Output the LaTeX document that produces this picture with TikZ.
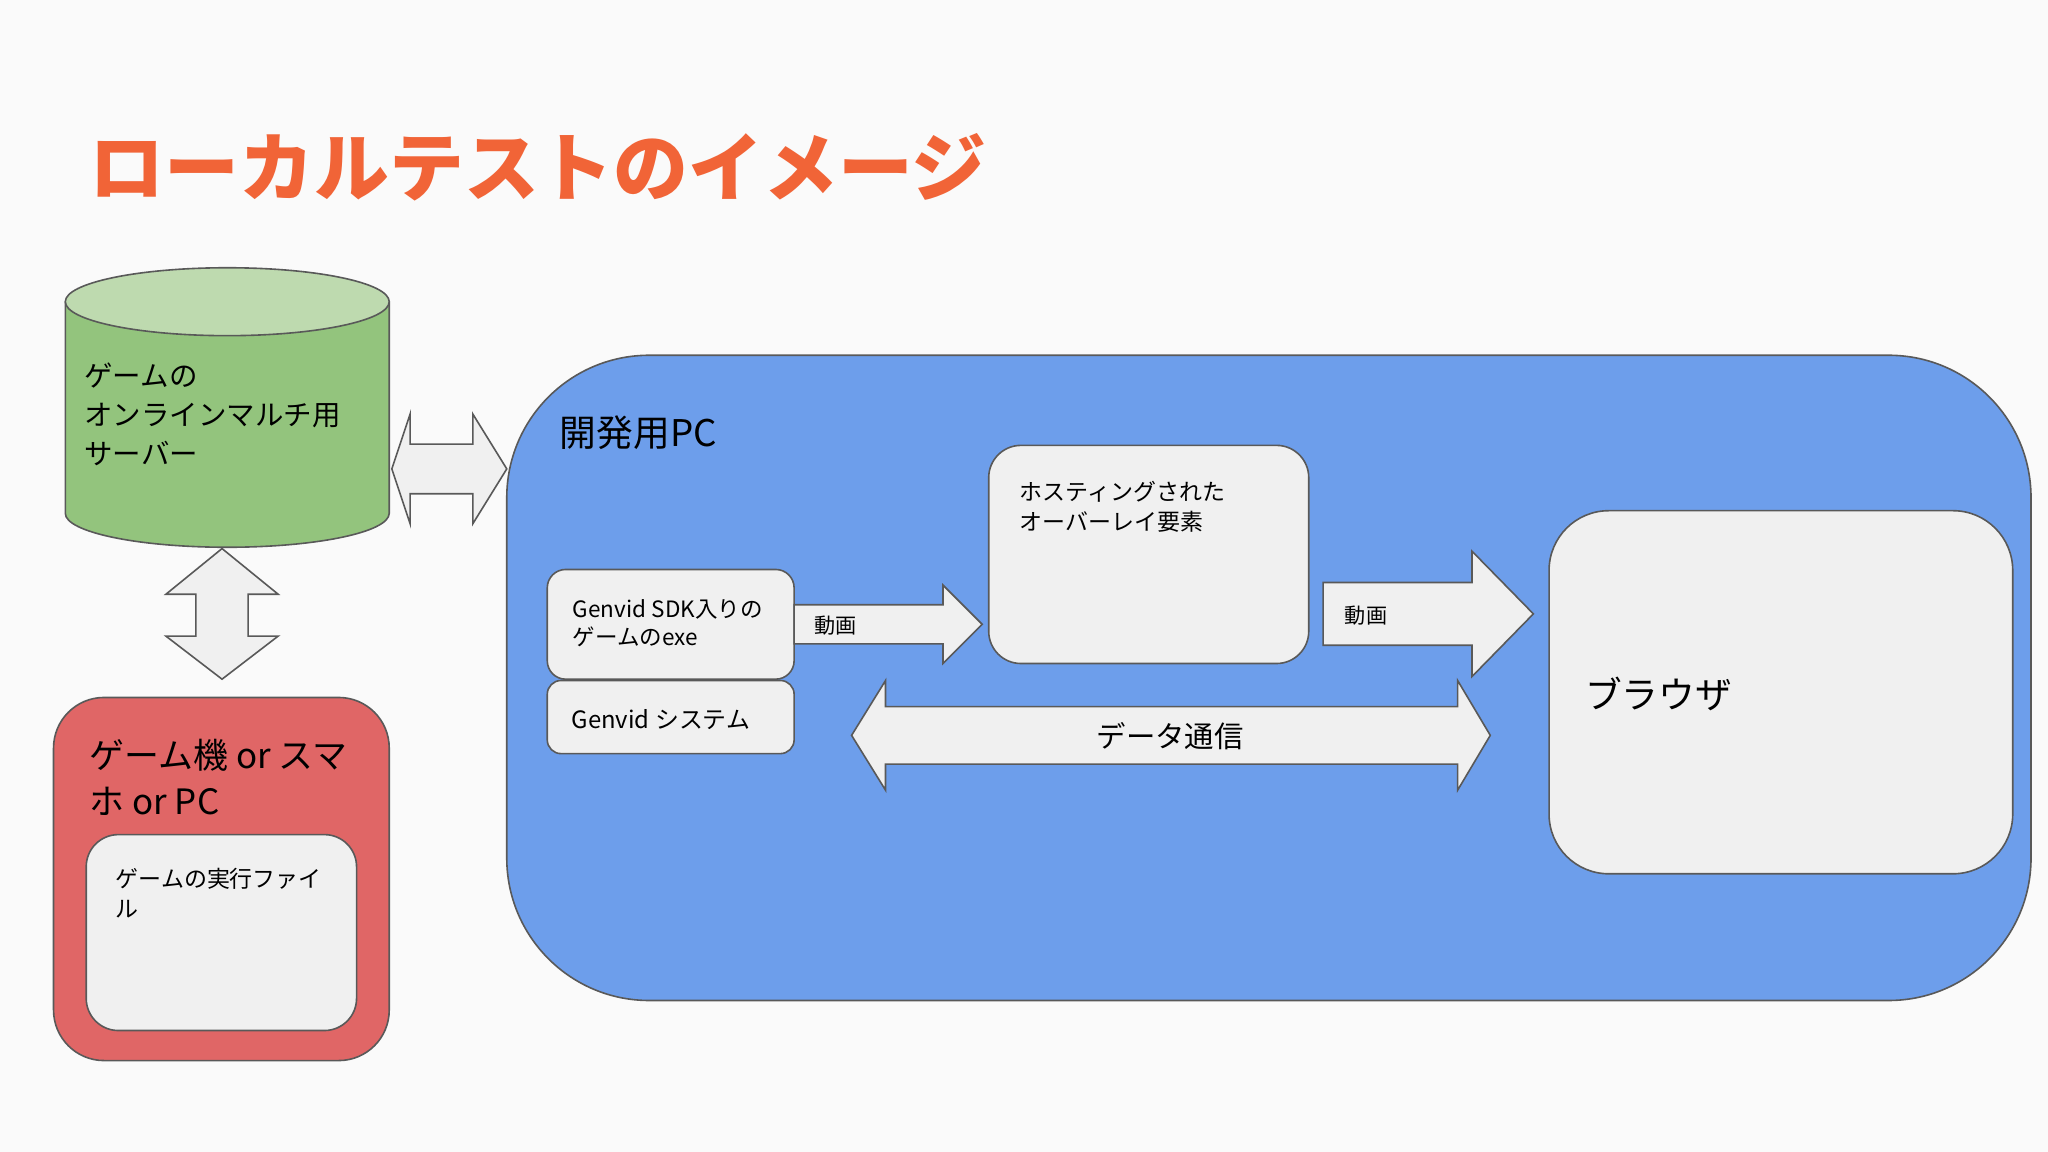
\documentclass[tikz,border=0pt]{standalone}
\usepackage{fontspec}
\setmainfont{Noto Sans CJK JP}
\begin{document}
\begin{tikzpicture}[x=0.01cm,y=-0.01cm,
  ln/.style={draw=black!65,line width=0.35pt},
  arr/.style={ln,fill=black!6},
  box/.style={ln,fill=black!6},
  every node/.style={inner sep=0pt},
  fs/.style 2 args={font=\fontsize{#1}{#2}\selectfont}]
\definecolor{titlec}{RGB}{241,100,55}
\definecolor{gr}{RGB}{147,196,125}
\definecolor{grt}{RGB}{190,218,175}
\definecolor{rd}{RGB}{224,102,102}
\definecolor{bl}{RGB}{109,158,235}
\useasboundingbox[fill=black!2] (0,0) rectangle (1568,882);
\node[anchor=base west,text=titlec,font=\fontsize{16.3pt}{20pt}\selectfont\bfseries] (title) at (68,150) {ローカルテストのイメージ};
% cylinder
\draw[ln,fill=gr] (50,231) -- (50,393) arc[start angle=180,end angle=0,x radius=124,y radius=26] -- (298,231);
\draw[ln,fill=grt] (174,231) ellipse[x radius=124,y radius=26];
\node[anchor=north west,align=left,fs={6.2pt}{8.5pt}] (srv) at (64,277) {ゲームの\\オンラインマルチ用\\サーバー};
% horizontal double arrow
\draw[arr] (300,359) -- (314,317) -- (314,340) -- (362,340) -- (362,317) -- (388,359) -- (362,401) -- (362,378) -- (314,378) -- (314,401) -- cycle;
% vertical double arrow
\draw[arr] (170,420) -- (213,455) -- (190,455) -- (190,487) -- (213,487) -- (170,520) -- (127,487) -- (150,487) -- (150,455) -- (127,455) -- cycle;
% red box
\draw[ln,fill=rd,rounded corners=11pt] (41,534) rectangle (298,812);
\node[anchor=north west,align=left,fs={7.6pt}{10pt}] (dev) at (68,565) {ゲーム機 or スマ\\ホ or PC};
\draw[box,rounded corners=7pt] (66,639) rectangle (273,789);
\node[anchor=north west,align=left,fs={5pt}{6.5pt}] (exe) at (88,664) {ゲームの実行ファイ\\ル};
% blue box
\draw[ln,fill=bl,rounded corners=31pt] (388,272) rectangle (1555,766);
\node[anchor=west,fs={8pt}{10pt}] (pc) at (428,331) {開発用PC};
% genvid boxes
\draw[box,rounded corners=4pt] (419,436) rectangle (608,520);
\node[anchor=north west,align=left,fs={4.9pt}{6.3pt}] (g1) at (438,458) {Genvid SDK入りの\\ゲームのexe};
\draw[box,rounded corners=3pt] (419,521) rectangle (608,577);
\node[anchor=west,fs={5.2pt}{6.5pt}] (g2) at (437,551) {Genvid システム};
% arrow 1
\draw[arr] (608,463) -- (722,463) -- (722,448) -- (752,478) -- (722,508) -- (722,493) -- (608,493) -- cycle;
\node[anchor=west,fs={4.6pt}{6pt}] (v1) at (623,479) {動画};
% hosting
\draw[box,rounded corners=7pt] (757,341) rectangle (1002,508);
\node[anchor=north west,align=left,fs={5pt}{6.5pt}] (host) at (780,368) {ホスティングされた\\オーバーレイ要素};
% arrow 2
\draw[arr] (1013,446) -- (1127,446) -- (1127,422) -- (1174,470) -- (1127,518) -- (1127,494) -- (1013,494) -- cycle;
\node[anchor=west,fs={4.6pt}{6pt}] (v2) at (1029,471) {動画};
% data arrow
\draw[arr] (652,563) -- (678,521) -- (678,541) -- (1116,541) -- (1116,521) -- (1141,563) -- (1116,605) -- (1116,585) -- (678,585) -- (678,605) -- cycle;
\node[fs={6.4pt}{8pt}] (data) at (896,564) {データ通信};
% browser
\draw[box,rounded corners=13pt] (1186,391) rectangle (1541,669);
\node[anchor=west,fs={8pt}{10pt}] (br) at (1213,531) {ブラウザ};
\end{tikzpicture}
\end{document}
